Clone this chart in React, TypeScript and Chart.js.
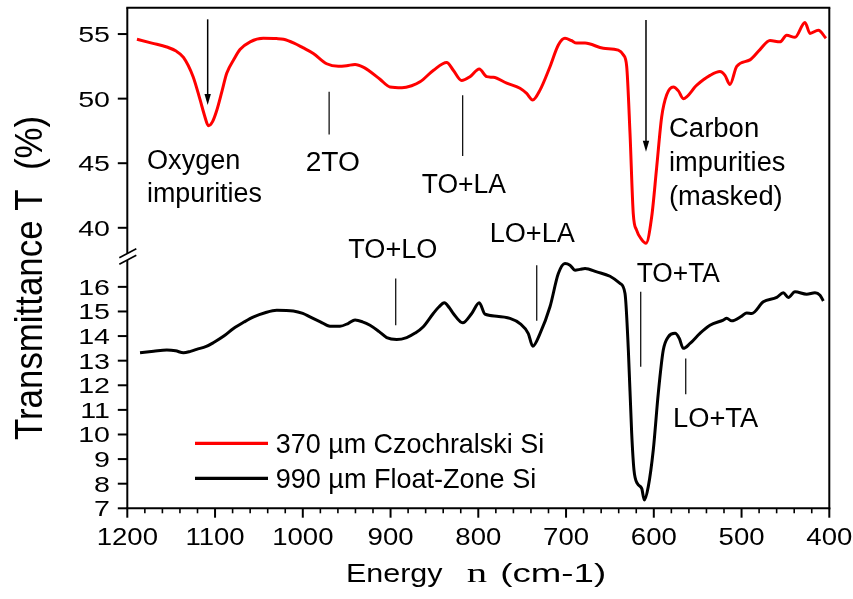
import React, { useEffect, useRef } from 'react';
import { Chart, registerables } from 'chart.js';

Chart.register(...registerables);

// ---------------- data ----------------
const czEnergy = [1189, 1172, 1155, 1145, 1136, 1125, 1117, 1112, 1107.6, 1103, 1098, 1092, 1086.7, 1078, 1071.6, 1060, 1045, 1030, 1022, 1010, 1000, 988, 972.8, 959.5, 950, 940.5, 930, 923.4, 912, 900.6, 887, 876, 866.4, 851, 836, 828.5, 819, 809.5, 798.9, 790.4, 782.9, 767.6, 752.5, 744.9, 738, 729.7, 718.3, 708.8, 701.2, 694, 687.9, 678.4, 657.5, 640.5, 634.8, 630.9, 627.1, 623.4, 619.5, 614, 608.9, 602.4, 596.7, 591, 585.3, 577.8, 572, 566.4, 551, 535.9, 524.6, 518.9, 513.2, 505.5, 490.4, 479, 467.6, 456.2, 448.6, 439.1, 427.7, 422, 412.5, 403.8];
const czT = [54.6, 54.3, 54.0, 53.7, 53.2, 51.7, 49.9, 48.7, 47.9, 48.2, 49.1, 50.6, 51.96, 53.1, 53.8, 54.4, 54.67, 54.65, 54.6, 54.3, 53.95, 53.5, 52.7, 52.5, 52.55, 52.65, 52.4, 52.1, 51.5, 50.9, 50.84, 51.0, 51.3, 52.2, 52.8, 52.2, 51.4, 51.7, 52.3, 51.7, 51.65, 51.2, 50.8, 50.4, 49.9, 50.66, 52.47, 54.15, 54.67, 54.5, 54.3, 54.3, 53.9, 53.76, 53.4, 52.5, 47.3, 41.1, 39.8, 39.1, 38.8, 40.85, 44.7, 48.6, 50.3, 50.9, 50.6, 50.0, 51.05, 51.8, 52.1, 51.8, 51.1, 52.5, 53.0, 53.8, 54.5, 54.4, 54.9, 54.75, 55.9, 55.05, 55.3, 54.67];

const fzEnergy = [1185.5, 1170, 1155, 1145, 1136, 1128, 1121, 1110, 1102, 1090, 1079, 1067, 1056, 1043, 1029.7, 1010.8, 1000, 991.8, 980, 969, 957.6, 948, 940.5, 932, 923.4, 913, 904.4, 893, 881.6, 872, 862.7, 851.3, 845, 838.7, 833, 828.5, 817.8, 807.5, 798.9, 792.4, 779, 763.9, 752.5, 743, 738, 729.7, 718.3, 708.8, 701.2, 695.5, 689.8, 684, 678.4, 665, 649.9, 638.5, 632.8, 629, 625.2, 622.6, 618.8, 613.8, 610.8, 606.3, 600.6, 594.9, 589.2, 583.5, 575.8, 570.9, 566.4, 558.7, 547.4, 536, 520.8, 516.9, 511.2, 499.8, 494.1, 488.4, 475.2, 459.9, 452.4, 446.7, 439.1, 425.8, 416.3, 410.6, 406.8];
const fzT = [13.32, 13.38, 13.43, 13.40, 13.32, 13.38, 13.46, 13.58, 13.73, 14.0, 14.31, 14.57, 14.78, 14.95, 15.05, 15.02, 14.92, 14.78, 14.58, 14.4, 14.4, 14.52, 14.65, 14.58, 14.44, 14.18, 13.94, 13.86, 13.94, 14.12, 14.38, 14.92, 15.18, 15.35, 15.15, 14.92, 14.54, 14.92, 15.35, 14.89, 14.81, 14.72, 14.51, 14.1, 13.59, 14.1, 15.19, 16.54, 16.95, 16.88, 16.68, 16.71, 16.75, 16.61, 16.43, 16.14, 15.73, 13.43, 10.05, 8.56, 8.01, 7.81, 7.34, 7.88, 9.37, 11.67, 13.43, 13.97, 14.11, 13.9, 13.5, 13.7, 14.11, 14.44, 14.65, 14.72, 14.62, 14.81, 14.94, 14.92, 15.39, 15.57, 15.76, 15.57, 15.8, 15.7, 15.76, 15.66, 15.43];

const seriesLabels = ['370 µm Czochralski Si', '990 µm Float-Zone Si'];
const seriesColors = ['#ff0000', '#000000'];

const xMajorTicks = [1200, 1100, 1000, 900, 800, 700, 600, 500, 400];
const xTickLabels = ['1200', '1100', '1000', '900', '800', '700', '600', '500', '400'];
const xMinorStep = 20;
const upperTicks = [40, 45, 50, 55];
const lowerTicks = [7, 8, 9, 10, 11, 12, 13, 14, 15, 16];

const xTitle = ['Energy', 'n', '(cm-1)'];
const yTitle = 'Transmittance T  (%)';

// marker arrows (energy, from value, to value) on upper axis
const arrowMarks = [
  { energy: 1108.4, from: 56.14, to: 49.5 },
  { energy: 608.9, from: 56.08, to: 45.88 },
];
// phonon lines
const peakMarks = [
  { energy: 970, axis: 'yHigh', from: 50.53, to: 47.23 },
  { energy: 817.8, axis: 'yHigh', from: 50.27, to: 45.55 },
  { energy: 894.1, axis: 'yLow', from: 16.34, to: 14.44 },
  { energy: 733.4, axis: 'yLow', from: 16.88, to: 14.62 },
  { energy: 614.9, axis: 'yLow', from: 15.8, to: 12.75 },
  { energy: 563.6, axis: 'yLow', from: 13.09, to: 11.64 },
];

// ---------------- layout ----------------
const W = 853;
const H = 599;
const AREA = { left: 127.3, right: 829.3, top: 7.7, bottom: 508.3 };
const BREAK_Y = 256.6;
const UPPER = { min: 37.77, max: 57.04 };
const LOWER = { min: 7, max: 17.23 };

const SANS = '"Liberation Sans", Arial, sans-serif';
const SERIF = '"Liberation Serif", "Times New Roman", serif';

const notes = [
  { text: 'Oxygen', x: 148, y: 169.3, w: 91.5 },
  { text: 'impurities', x: 148, y: 201.7, w: 113.5 },
  { text: '2TO', x: 306.7, y: 171, w: 52.3 },
  { text: 'TO+LA', x: 421.7, y: 192.7, w: 84.3 },
  { text: 'Carbon', x: 670, y: 137.3, w: 88.3 },
  { text: 'impurities', x: 670, y: 171, w: 115 },
  { text: '(masked)', x: 670, y: 204.5, w: 111.7 },
  { text: 'LO+LA', x: 491.7, y: 241.7, w: 83.3 },
  { text: 'TO+LO', x: 348.3, y: 258.3, w: 88.3 },
  { text: 'TO+TA', x: 636.7, y: 281.7, w: 83.3 },
  { text: 'LO+TA', x: 675, y: 426.7, w: 83.3 },
];

let capRatioCache = 0;
function capRatio(ctx: CanvasRenderingContext2D) {
  if (!capRatioCache) {
    ctx.save();
    ctx.font = `100px ${SANS}`;
    capRatioCache = ctx.measureText('H').actualBoundingBoxAscent / 100 || 0.7;
    ctx.restore();
  }
  return capRatioCache;
}

function fitText(ctx: CanvasRenderingContext2D, text: string, inkLeft: number, baseline: number, inkWidth: number, size: number, family: string) {
  ctx.font = `${size}px ${family}`;
  ctx.textAlign = 'left';
  ctx.textBaseline = 'alphabetic';
  const m = ctx.measureText(text);
  const ink = m.actualBoundingBoxLeft + m.actualBoundingBoxRight;
  const sx = inkWidth / ink;
  ctx.save();
  ctx.translate(inkLeft + m.actualBoundingBoxLeft * sx, baseline);
  ctx.scale(sx, 1);
  ctx.fillText(text, 0, 0);
  ctx.restore();
}

function seg(ctx: CanvasRenderingContext2D, x1: number, y1: number, x2: number, y2: number) {
  ctx.beginPath();
  ctx.moveTo(x1, y1);
  ctx.lineTo(x2, y2);
  ctx.stroke();
}

const decor = {
  id: 'decor',
  afterDraw(chart: any) {
    const ctx: CanvasRenderingContext2D = chart.ctx;
    const xs = chart.scales.x;
    const yH = chart.scales.yHigh;
    const yL = chart.scales.yLow;
    const { left: L, right: R, top: T, bottom: B } = chart.chartArea;
    const brk = yH.bottom;
    const cr = capRatio(ctx);
    ctx.save();
    ctx.strokeStyle = '#000';
    ctx.fillStyle = '#000';
    ctx.lineCap = 'butt';

    // frame
    ctx.lineWidth = 2;
    seg(ctx, L - 1, T, R + 1, T);
    seg(ctx, R, T, R, B + 1);
    seg(ctx, L - 1, B, R + 1, B);
    // left axis with break
    const b1 = brk - 3.2;
    const b2 = brk + 3.4;
    seg(ctx, L, T, L, b1);
    seg(ctx, L, b2, L, B);
    ctx.lineWidth = 1.6;
    seg(ctx, L - 8, b1 + 4.3, L + 9, b1 - 4.7);
    seg(ctx, L - 8, b2 + 4.3, L + 9, b2 - 4.7);

    // y ticks
    ctx.lineWidth = 2;
    const ySize = 15.8 / cr;
    ctx.font = `${ySize}px ${SANS}`;
    ctx.textAlign = 'right';
    ctx.textBaseline = 'alphabetic';
    const yTick = (scale: any, v: number) => {
      const y = scale.getPixelForValue(v);
      seg(ctx, L - 9.5, y, L, y);
      ctx.save();
      ctx.translate(L - 17.3, y + 7.9);
      ctx.scale(1.25, 1);
      ctx.fillText(String(v), 0, 0);
      ctx.restore();
    };
    upperTicks.forEach((v) => yTick(yH, v));
    lowerTicks.forEach((v) => yTick(yL, v));

    // x ticks
    for (let v = xMajorTicks[0]; v >= xMajorTicks[xMajorTicks.length - 1]; v -= xMinorStep) {
      const x = xs.getPixelForValue(v);
      const major = xMajorTicks.includes(v);
      ctx.lineWidth = major ? 2 : 1.6;
      seg(ctx, x, B, x, B + (major ? 9.4 : 5));
    }
    ctx.font = `${16.7 / cr}px ${SANS}`;
    ctx.textAlign = 'center';
    xMajorTicks.forEach((v, i) => {
      const x = xs.getPixelForValue(v);
      ctx.save();
      ctx.translate(x, B + 36.7);
      ctx.scale(1.14, 1);
      ctx.fillText(xTickLabels[i], 0, 0);
      ctx.restore();
    });

    // axis titles
    fitText(ctx, xTitle[0], 348.3, 581.7, 95, 18.3 / cr, SANS);
    fitText(ctx, xTitle[1], 466.7, 581.7, 20, 18.3 / cr, SERIF);
    fitText(ctx, xTitle[2], 501.7, 581.7, 103.3, 18.3 / cr, SANS);

    {
      ctx.font = `30px ${SANS}`;
      const m = ctx.measureText(yTitle);
      const ink = m.actualBoundingBoxLeft + m.actualBoundingBoxRight;
      const len = 440 - 117;
      const size = (30 * len) / ink;
      ctx.font = `${size}px ${SANS}`;
      const m2 = ctx.measureText(yTitle);
      const cap = ctx.measureText('T').actualBoundingBoxAscent;
      const sx = 26.7 / cap;
      ctx.save();
      ctx.translate(41.7, 440);
      ctx.scale(sx, 1);
      ctx.rotate(-Math.PI / 2);
      ctx.textAlign = 'left';
      ctx.fillText(yTitle, m2.actualBoundingBoxLeft, 0);
      ctx.restore();
    }

    // annotations
    ctx.lineWidth = 1.2;
    peakMarks.forEach((p) => {
      const sc = p.axis === 'yHigh' ? yH : yL;
      const x = xs.getPixelForValue(p.energy);
      seg(ctx, x, sc.getPixelForValue(p.from), x, sc.getPixelForValue(p.to));
    });
    arrowMarks.forEach((a) => {
      const x = xs.getPixelForValue(a.energy);
      const y0 = yH.getPixelForValue(a.from);
      const y1 = yH.getPixelForValue(a.to);
      ctx.lineWidth = 1.5;
      seg(ctx, x, y0, x, y1 - 6);
      ctx.beginPath();
      ctx.moveTo(x, y1);
      ctx.lineTo(x - 3.2, y1 - 11);
      ctx.lineTo(x + 3.2, y1 - 11);
      ctx.closePath();
      ctx.fill();
    });
    notes.forEach((n) => fitText(ctx, n.text, n.x, n.y, n.w, 18.5 / cr, SANS));

    // legend
    const legendRows = [
      { y: 443.3, base: 453.3, w: 266.3 },
      { y: 478.3, base: 488.3, w: 258.3 },
    ];
    legendRows.forEach((r, i) => {
      ctx.strokeStyle = seriesColors[i];
      ctx.lineWidth = 3.2;
      seg(ctx, 195, r.y, 268, r.y);
      ctx.fillStyle = '#000';
      fitText(ctx, seriesLabels[i], 276.7, r.base, r.w, 19.3 / cr, SANS);
    });
    ctx.restore();
  },
};

export default function App() {
  const ref = useRef<HTMLCanvasElement>(null);
  useEffect(() => {
    const canvas = ref.current;
    if (!canvas) return;
    const hidden = {
      grid: { display: false },
      border: { display: false },
      ticks: { display: false },
      title: { display: false },
    };
    const chart = new Chart(canvas, {
      type: 'line',
      data: {
        datasets: [
          {
            label: seriesLabels[0],
            data: czEnergy.map((e, i) => ({ x: e, y: czT[i] })),
            borderColor: seriesColors[0],
            borderWidth: 3,
            pointRadius: 0,
            fill: false,
            cubicInterpolationMode: 'monotone',
            xAxisID: 'x',
            yAxisID: 'yHigh',
          },
          {
            label: seriesLabels[1],
            data: fzEnergy.map((e, i) => ({ x: e, y: fzT[i] })),
            borderColor: seriesColors[1],
            borderWidth: 3,
            pointRadius: 0,
            fill: false,
            cubicInterpolationMode: 'monotone',
            xAxisID: 'x',
            yAxisID: 'yLow',
          },
        ],
      },
      options: {
        responsive: false,
        animation: false,
        devicePixelRatio: 1,
        events: [],
        layout: {
          padding: { left: AREA.left, right: W - AREA.right, top: AREA.top, bottom: H - AREA.bottom },
        },
        plugins: { legend: { display: false }, tooltip: { enabled: false }, title: { display: false } },
        scales: {
          x: {
            type: 'linear',
            position: 'bottom',
            reverse: true,
            min: 400,
            max: 1200,
            ...hidden,
            afterFit: (s: any) => { s.height = 0; },
          },
          yLow: {
            type: 'linear',
            position: 'left',
            stack: 'trans',
            stackWeight: AREA.bottom - BREAK_Y,
            min: LOWER.min,
            max: LOWER.max,
            ...hidden,
            afterFit: (s: any) => { s.width = 0; },
          },
          yHigh: {
            type: 'linear',
            position: 'left',
            stack: 'trans',
            stackWeight: BREAK_Y - AREA.top,
            min: UPPER.min,
            max: UPPER.max,
            ...hidden,
            afterFit: (s: any) => { s.width = 0; },
          },
        },
      } as any,
      plugins: [decor],
    });
    return () => chart.destroy();
  }, []);
  return (
    <div style={{ position: 'fixed', left: 0, top: 0, width: W, height: H, background: '#fff' }}>
      <canvas ref={ref} width={W} height={H} style={{ display: 'block' }} />
    </div>
  );
}
